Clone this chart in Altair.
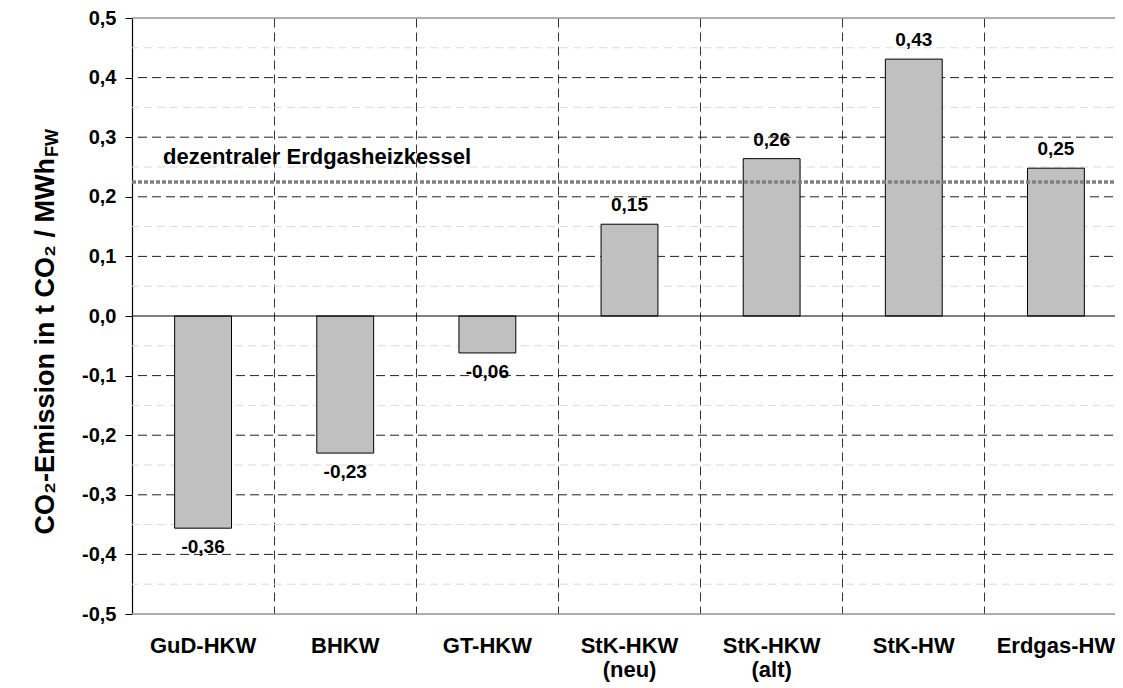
import altair as alt
import pandas as pd

# ---- data ----
categories = ["GuD-HKW", "BHKW", "GT-HKW", "StK-HKW (neu)", "StK-HKW (alt)", "StK-HW", "Erdgas-HW"]
values = [-0.356, -0.230, -0.062, 0.154, 0.264, 0.431, 0.248]
value_labels = ["-0,36", "-0,23", "-0,06", "0,15", "0,26", "0,43", "0,25"]
reference_value = 0.225
reference_label = "dezentraler Erdgasheizkessel"
y_ticks = [-0.5, -0.4, -0.3, -0.2, -0.1, 0.0, 0.1, 0.2, 0.3, 0.4, 0.5]
major_grid = [-0.4, -0.3, -0.2, -0.1, 0.1, 0.2, 0.3, 0.4]
minor_grid = [-0.45, -0.35, -0.25, -0.15, -0.05, 0.05, 0.15, 0.25, 0.35, 0.45]
frame_lines = [-0.5, 0.5]
y_title_main = "CO\u2082-Emission in t CO\u2082 / MWh"
y_title_sub = "FW"

W = 995
H = 596
FONT = "Liberation Sans"

df = pd.DataFrame({"cat": categories, "v": values, "lbl": value_labels})
df_major = pd.DataFrame({"v": major_grid})
df_minor = pd.DataFrame({"v": minor_grid})
df_frame = pd.DataFrame({"v": frame_lines})
df_ref = pd.DataFrame({"v": [reference_value], "t": [reference_label]})
df_zero = pd.DataFrame({"v": [0.0]})
df_title = pd.DataFrame({"a": [y_title_main], "b": [y_title_sub]})

yscale = alt.Scale(domain=[-0.5, 0.5], nice=False, zero=False)

y_enc = alt.Y(
    "v:Q",
    scale=yscale,
    axis=alt.Axis(
        values=y_ticks,
        title=None,
        grid=False,
        labelExpr="replace(replace(format(datum.value, '.1f'), '.', ','), '\u2212', '-')",
        labelFont=FONT,
        labelFontSize=20,
        labelFontWeight="bold",
        labelColor="black",
        labelPadding=9,
        labelFlush=False,
        labelOverlap=False,
        tickSize=7,
        tickColor="black",
        tickWidth=1,
        domainColor="black",
        domainWidth=1.2,
    ),
)

x_enc = alt.X(
    "cat:N",
    sort=categories,
    scale=alt.Scale(paddingInner=0, paddingOuter=0),
    axis=alt.Axis(
        title=None,
        labelAngle=0,
        labelFont=FONT,
        labelFontSize=22,
        labelFontWeight="bold",
        labelColor="black",
        labelPadding=21,
        labelLineHeight=24,
        labelExpr="split(datum.label, ' ')",
        ticks=False,
        domain=False,
        grid=True,
        gridColor="#333333",
        gridDash=[9, 5],
        gridWidth=1,
        bandPosition=0,
    ),
)

minor = alt.Chart(df_minor).mark_rule(color="#d9d9d9", strokeDash=[8, 5], strokeWidth=1).encode(y=y_enc)

major = alt.Chart(df_major).mark_rule(color="#222222", strokeDash=[9, 5], strokeWidth=1).encode(y=y_enc)

frame = alt.Chart(df_frame).mark_rule(color="#999999", strokeWidth=1.5).encode(y=y_enc)

bars = alt.Chart(df).mark_bar(
    width=alt.RelativeBandSize(0.4), color="#c0c0c0", stroke="black", strokeWidth=1
).encode(x=x_enc, y=y_enc)

zero = alt.Chart(df_zero).mark_rule(color="black", strokeWidth=1.2).encode(y=y_enc)

ref_line = alt.Chart(df_ref).mark_rule(color="#808080", strokeWidth=3.5, strokeDash=[4, 2]).encode(
    y=y_enc,
    x=alt.value(0),
    x2=alt.value(W),
)

ref_text = alt.Chart(df_ref).mark_text(
    align="left", baseline="alphabetic", dy=-18, font=FONT, fontSize=22, fontWeight="bold", color="black"
).encode(
    y=y_enc,
    x=alt.value(31),
    text="t:N",
)

pos_labels = alt.Chart(df).transform_filter("datum.v >= 0").mark_text(
    baseline="alphabetic", dy=-13, font=FONT, fontSize=19, fontWeight="bold", color="black"
).encode(x=x_enc, y=y_enc, text="lbl:N")

neg_labels = alt.Chart(df).transform_filter("datum.v < 0").mark_text(
    baseline="top", dy=10, font=FONT, fontSize=19, fontWeight="bold", color="black"
).encode(x=x_enc, y=y_enc, text="lbl:N")

title_main = alt.Chart(df_title).mark_text(
    angle=270, align="right", baseline="middle", font=FONT, fontSize=27, fontWeight="bold", color="black"
).encode(x=alt.value(-86), y=alt.value(140), text="a:N")

title_sub = alt.Chart(df_title).mark_text(
    angle=270, align="left", baseline="middle", dx=1, dy=7, font=FONT, fontSize=18, fontWeight="bold", color="black"
).encode(x=alt.value(-86), y=alt.value(140), text="b:N")

chart = alt.layer(
    minor, major, frame, bars, zero, ref_line, ref_text, pos_labels, neg_labels, title_main, title_sub
).properties(
    width=W,
    height=H,
    autosize=alt.AutoSizeParams(type="none"),
    padding={"left": 124, "top": 10, "right": -12, "bottom": 70},
).configure_view(stroke=None).configure(background="white")

chart.save("out.html", embed_options={"renderer": "svg", "actions": False})
